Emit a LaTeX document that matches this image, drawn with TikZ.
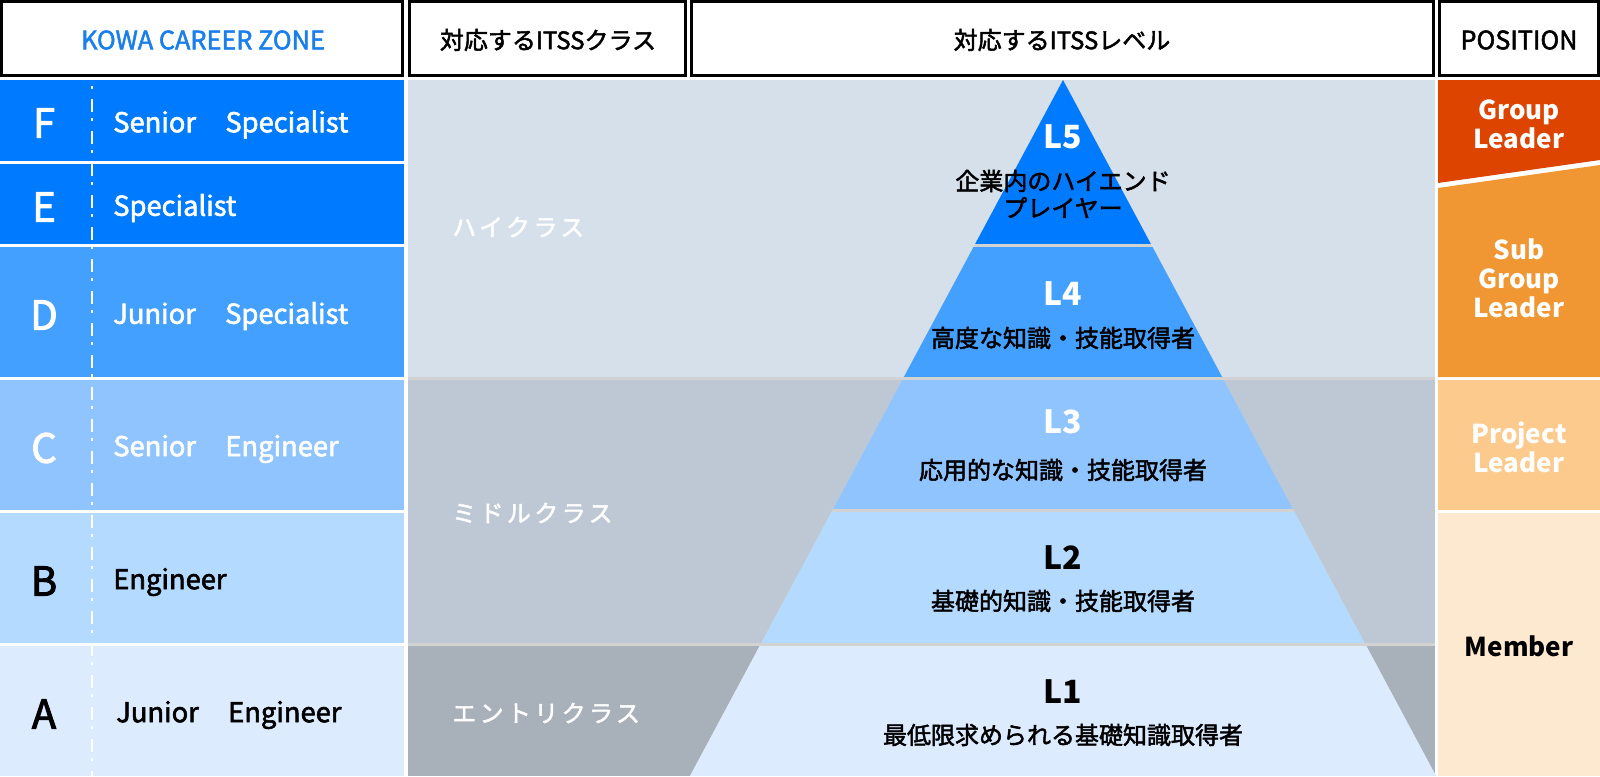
\documentclass[tikz,border=0pt]{standalone}
\usepackage{fontspec}
\setmainfont{Noto Sans CJK JP}
\usetikzlibrary{calc}
\definecolor{lv5}{HTML}{007BFF}
\definecolor{lv4}{HTML}{44A0FF}
\definecolor{lv3}{HTML}{90C4FF}
\definecolor{lv2}{HTML}{B5DAFF}
\definecolor{lv1}{HTML}{DDEBFF}
\definecolor{bghigh}{HTML}{D6E0EB}
\definecolor{bgmid}{HTML}{BEC8D4}
\definecolor{bgentry}{HTML}{A8B0BA}
\definecolor{sepgray}{HTML}{D2D2D2}
\definecolor{posgl}{HTML}{DD4400}
\definecolor{possgl}{HTML}{F09632}
\definecolor{pospl}{HTML}{FCCA8C}
\definecolor{posmem}{HTML}{FDE8D0}
\definecolor{kowablue}{HTML}{1A7FEA}
\begin{document}
\begin{tikzpicture}[x=0.75pt,y=-0.75pt,
  hdrbox/.style={draw=black,line width=2.6pt,fill=white},
  hdrtext/.style={font=\fontsize{18pt}{20pt}\selectfont\addfontfeature{FakeBold=2},anchor=center,inner sep=0},
  hdrlatin/.style={font=\fontsize{19pt}{21pt}\selectfont\addfontfeature{FakeBold=2},anchor=center,inner sep=0},
  grade/.style={font=\fontsize{30pt}{32pt}\selectfont\addfontfeature{FakeBold=2.5},anchor=center,inner sep=0},
  role/.style={font=\fontsize{20.5pt}{22pt}\selectfont\addfontfeature{FakeBold=2},anchor=west,inner sep=0},
  lvl/.style={font=\bfseries\fontsize{24pt}{26pt}\selectfont,anchor=center,inner sep=0},
  lvdesc/.style={font=\fontsize{18pt}{20.25pt}\selectfont\addfontfeature{FakeBold=2},anchor=center,inner sep=0,align=center},
  cls/.style={font=\fontsize{18pt}{20pt}\selectfont\addfontfeature{LetterSpace=14,FakeBold=2},text=white,anchor=west,inner sep=0},
  posbox/.style={font=\bfseries\fontsize{19.5pt}{21.75pt}\selectfont,anchor=center,inner sep=0,align=center},
  ]
\useasboundingbox (0,0) rectangle (1600,776);
\fill[white] (0,0) rectangle (1600,776);
% header
\draw[hdrbox] (1.3,1.3) rectangle (402.7,75.7);
\draw[hdrbox] (409.3,1.3) rectangle (685.7,75.7);
\draw[hdrbox] (691.3,1.3) rectangle (1433.7,75.7);
\draw[hdrbox] (1439.3,1.3) rectangle (1598.7,75.7);
\node[hdrlatin,text=kowablue] (hKowa) at (203,40) {KOWA CAREER ZONE};
\node[hdrtext] (hCls) at (548,40) {対応するITSSクラス};
\node[hdrtext] (hLvl) at (1062,40) {対応するITSSレベル};
\node[hdrlatin] (hPos) at (1519,40) {POSITION};
% left column
\fill[lv5] (0,80) rectangle (404,161);
\fill[lv5] (0,164) rectangle (404,244);
\fill[lv4] (0,247) rectangle (404,377);
\fill[lv3] (0,380) rectangle (404,510);
\fill[lv2] (0,513) rectangle (404,643);
\fill[lv1] (0,646) rectangle (404,776);
\draw[white,line width=1.8pt,dash pattern=on 2.25pt off 7.5pt on 9.75pt off 4.5pt,dash phase=-4.5pt] (92,80) -- (92,776);
\node[grade,text=white] (gF) at (44,123) {F};
\node[grade,text=white] (gE) at (44,207) {E};
\node[grade,text=white] (gD) at (44,315) {D};
\node[grade,text=white] (gC) at (44,448) {C};
\node[grade,text=black] (gB) at (44,581) {B};
\node[grade,text=black] (gA) at (44,714) {A};
\node[role,text=white] (rF) at (113,124.5) {Senior\hspace{22pt}Specialist};
\node[role,text=white] (rE) at (113,208) {Specialist};
\node[role,text=white] (rD) at (113,316) {Junior\hspace{22pt}Specialist};
\node[role,text=white] (rC) at (113,449) {Senior\hspace{22pt}Engineer};
\node[role,text=black] (rB) at (113,582) {Engineer};
\node[role,text=black] (rA) at (116,715) {Junior\hspace{22pt}Engineer};
% middle background
\fill[sepgray] (408,80) rectangle (1435,776);
\fill[bghigh] (408,80) rectangle (1435,377);
\fill[bgmid] (408,380) rectangle (1435,643);
\fill[bgentry] (408,646) rectangle (1435,776);
\node[cls] (cHigh) at (452,227) {ハイクラス};
\node[cls] (cMid) at (452,513) {ミドルクラス};
\node[cls] (cEntry) at (452,713) {エントリクラス};
% pyramid
\coordinate (apex) at (1063,80);
\coordinate (bl) at (690,776);
\coordinate (br) at (1436,776);
\begin{scope}
\clip (apex) -- (bl) -- (br) -- cycle;
\fill[sepgray] (600,80) rectangle (1500,776);
\fill[lv5] (600,80) rectangle (1500,244);
\fill[lv4] (600,247) rectangle (1500,377);
\fill[lv3] (600,380) rectangle (1500,509);
\fill[lv2] (600,512) rectangle (1500,643);
\fill[lv1] (600,646) rectangle (1500,776);
\end{scope}
\node[lvl,text=white] (l5) at (1063,137) {L5};
\node[lvdesc] (d5) at (1063,194) {企業内のハイエンド\\プレイヤー};
\node[lvl,text=white] (l4) at (1063,294) {L4};
\node[lvdesc] (d4) at (1063,338) {高度な知識・技能取得者};
\node[lvl,text=white] (l3) at (1063,422) {L3};
\node[lvdesc] (d3) at (1063,470) {応用的な知識・技能取得者};
\node[lvl,text=black] (l2) at (1063,558) {L2};
\node[lvdesc] (d2) at (1063,601) {基礎的知識・技能取得者};
\node[lvl,text=black] (l1) at (1063,692) {L1};
\node[lvdesc] (d1) at (1063,735) {最低限求められる基礎知識取得者};
% position column
\fill[posgl] (1438,80) -- (1600,80) -- (1600,160) -- (1438,183) -- cycle;
\fill[possgl] (1438,188) -- (1600,165) -- (1600,377) -- (1438,377) -- cycle;
\fill[pospl] (1438,380) rectangle (1600,510);
\fill[posmem] (1438,513) rectangle (1600,776);
\node[posbox,text=white] (pGL) at (1519,124) {Group\\Leader};
\node[posbox,text=white] (pSGL) at (1519,278) {Sub\\Group\\Leader};
\node[posbox,text=white] (pPL) at (1519,447) {Project\\Leader};
\node[posbox,text=black] (pM) at (1519,646) {Member};
\end{tikzpicture}
\end{document}
